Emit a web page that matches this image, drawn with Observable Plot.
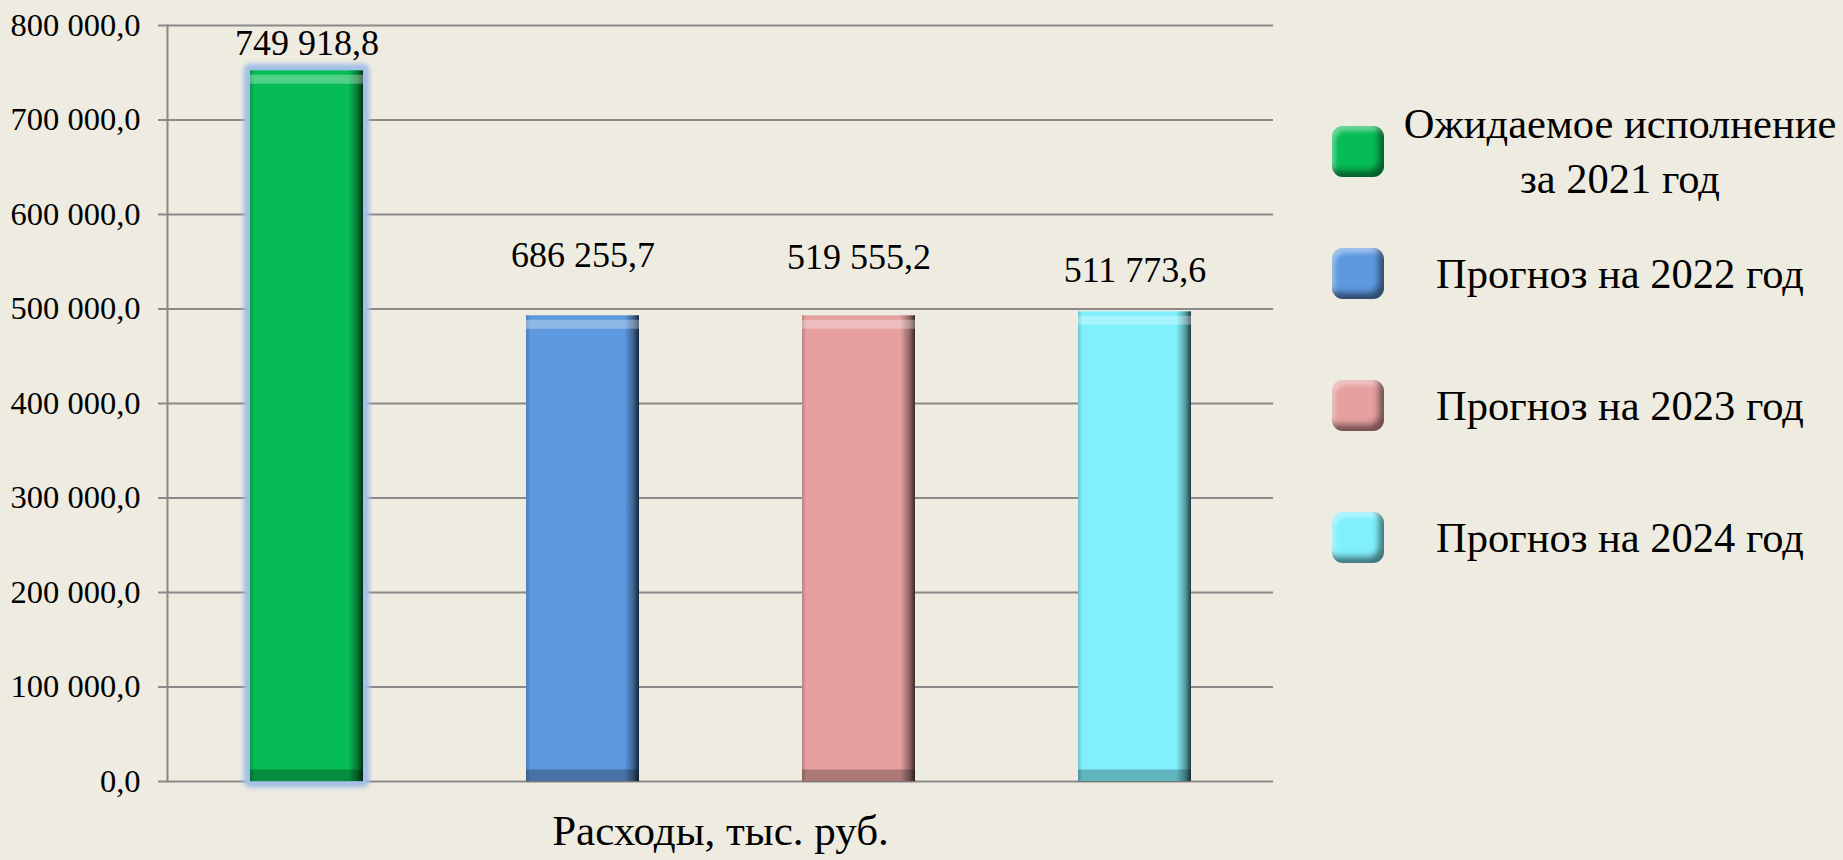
<!DOCTYPE html>
<html>
<head>
<meta charset="utf-8">
<script src="https://cdn.jsdelivr.net/npm/d3@7"></script>
<script src="https://cdn.jsdelivr.net/npm/@observablehq/plot@0.6"></script>
<style>
html, body { margin: 0; padding: 0; background: #EEEBE0; }
#wrap { position: relative; width: 1843px; height: 860px; font-family: "Liberation Serif", "Times New Roman", serif; }
#chart { position: absolute; left: 0; top: 0; }
#legend { position: absolute; left: 1332px; top: 95px; width: 511px; }
.item { display: flex; align-items: center; height: 132px; }
.item:first-child { height: 112px; }
.sw { width: 52px; height: 51px; border-radius: 11px; flex: none;
      box-shadow: inset -5px -6px 6px rgba(0,0,0,0.5), inset 3px 5px 4px rgba(255,255,255,0.4); }
.lt { flex: 1; margin-left: 13px; text-align: center; font-size: 42.5px; line-height: 55px; color: #000; }
</style>
</head>
<body>
<div id="wrap"><div id="chart"></div><div id="legend"></div></div>
<script>
// ---- data ----
const categories = ["Ожидаемое исполнение за 2021 год", "Прогноз на 2022 год", "Прогноз на 2023 год", "Прогноз на 2024 год"];
const legendLines = [["Ожидаемое исполнение", "за 2021 год"], ["Прогноз на 2022 год"], ["Прогноз на 2023 год"], ["Прогноз на 2024 год"]];
const barValues = [752000, 492800, 492800, 497000];          // bar heights as drawn
const labelNumbers = [749918.8, 686255.7, 519555.2, 511773.6]; // printed data labels
const labelY = [781500, 557100, 554900, 541200];             // where each label sits on the value axis
const colors = ["#06BC55", "#5E98DF", "#E5A09F", "#80F0FD"];
const yTicks = [0, 100000, 200000, 300000, 400000, 500000, 600000, 700000, 800000];
const xTitle = "Расходы, тыс. руб.";

const fmt = d3.formatLocale({decimal: ",", thousands: " ", grouping: [3], currency: ["", ""]}).format(",.1f");
const data = categories.map((c, i) => ({category: c, value: barValues[i], label: labelNumbers[i], labelY: labelY[i]}));

const glow = "#A3C0E6";
const grid = "#8A8A8A";

const chart = Plot.plot({
  width: 1843,
  height: 860,
  marginLeft: 167,
  marginRight: 570,
  marginTop: 25,
  marginBottom: 79,
  style: {background: "transparent", fontFamily: "'Liberation Serif', 'Times New Roman', serif", color: "black"},
  x: {domain: categories, axis: null, paddingInner: 0.591, paddingOuter: 0.2955},
  y: {domain: [0, 800000]},
  color: {domain: categories, range: colors},
  marks: [
    Plot.ruleY(yTicks, {stroke: grid, strokeWidth: 2}),
    Plot.axisY({ticks: yTicks, tickFormat: fmt, tickSize: 9, tickPadding: 18, fontSize: 32.5, stroke: grid, strokeWidth: 2, fill: "black", label: null}),
    Plot.frame({anchor: "left", stroke: grid, strokeWidth: 2}),
    Plot.barY(data.slice(0, 1), {x: "category", y: "value", fill: glow, stroke: glow, strokeWidth: 13, strokeLinejoin: "round"}),
    Plot.barY(data, {x: "category", y: "value", fill: "category"}),
    Plot.barY(data, {x: "category", y: "value", fill: "url(#hshade)"}),
    Plot.tickY(data, {x: "category", y: "value", stroke: "white", strokeOpacity: 0.3, strokeWidth: 9, dy: 8.5}),
    Plot.tickY(data, {x: "category", y: 0, stroke: "black", strokeOpacity: 0.25, strokeWidth: 12, dy: -6}),
    Plot.text(data, {x: "category", y: "labelY", text: d => fmt(d.label), fontSize: 36, fill: "black"}),
    Plot.text([xTitle], {frameAnchor: "bottom", text: d => d, dy: 63, fontSize: 43, fill: "black"})
  ]
});

d3.select(chart).insert("defs", ":first-child").html(`
  <linearGradient id="hshade" x1="0" y1="0" x2="1" y2="0">
    <stop offset="0" stop-color="black" stop-opacity="0.18"/>
    <stop offset="0.04" stop-color="black" stop-opacity="0"/>
    <stop offset="0.87" stop-color="black" stop-opacity="0"/>
    <stop offset="0.95" stop-color="black" stop-opacity="0.35"/>
    <stop offset="1" stop-color="black" stop-opacity="0.75"/>
  </linearGradient>
  <filter id="glowblur" x="-20%" y="-5%" width="140%" height="110%">
    <feGaussianBlur stdDeviation="2"/>
  </filter>`);

const barGroups = d3.select(chart).selectAll('g[aria-label="bar"]').nodes();
if (barGroups.length) barGroups[0].setAttribute("filter", "url(#glowblur)");

document.getElementById("chart").appendChild(chart);

// ---- legend ----
const legend = d3.select("#legend");
categories.forEach((c, i) => {
  const item = legend.append("div").attr("class", "item");
  item.append("div").attr("class", "sw").style("background", colors[i]);
  item.append("div").attr("class", "lt").html(legendLines[i].join("<br>"));
});
</script>
</body>
</html>
